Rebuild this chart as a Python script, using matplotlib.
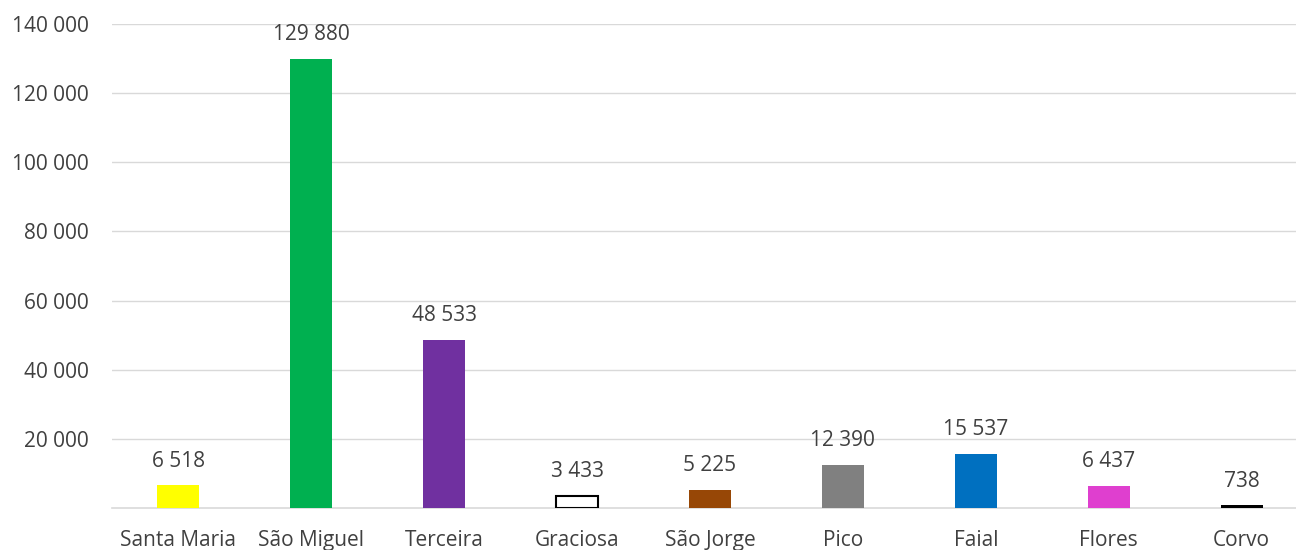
import matplotlib.pyplot as plt
import numpy as np

plt.rcParams['font.family'] = ['Open Sans', 'DejaVu Sans']

islands = ["Santa Maria", "São Miguel", "Terceira", "Graciosa", "São Jorge",
           "Pico", "Faial", "Flores", "Corvo"]
population = [6518, 129880, 48533, 3433, 5225, 12390, 15537, 6437, 738]
colors = ["#FFFF00", "#00B050", "#7030A0", "#FFFFFF", "#974706",
          "#808080", "#0070C0", "#DF3FCF", "#000000"]
edges = ["none", "none", "none", "#000000", "none",
         "none", "none", "none", "none"]
yticks = [20000, 40000, 60000, 80000, 100000, 120000, 140000]


def fmt(v):
    return f"{v:,}".replace(",", " ")


fig = plt.figure(figsize=(12.96, 5.5), dpi=100)
ax = fig.add_axes([112 / 1296, 1 - 508 / 550, 1196 / 1296, (508 - 24) / 550])

x = np.arange(len(islands))
bars = ax.bar(x, population, width=0.316, color=colors, edgecolor=edges,
              linewidth=1.5, zorder=3)
for xi, v in zip(x, population):
    ax.annotate(fmt(v), (xi, v), xytext=(0, 10), textcoords="offset points",
                ha="center", va="bottom", fontsize=15, color="#404040")

ax.set_xlim(-0.5, len(islands) - 0.5)
ax.set_ylim(0, 140000)
ax.set_yticks(yticks)
ax.set_yticklabels([fmt(t) for t in yticks])
ax.set_xticks(x)
ax.set_xticklabels(islands)
ax.tick_params(axis="both", length=0, labelsize=15, labelcolor="#404040")
ax.tick_params(axis="y", pad=17)
ax.tick_params(axis="x", pad=16)
ax.grid(axis="y", color="#D9D9D9", linewidth=1, zorder=0)
for s in ["top", "right", "left"]:
    ax.spines[s].set_visible(False)
ax.spines["bottom"].set_color("#D9D9D9")
ax.spines["bottom"].set_linewidth(1.2)

fig.savefig("out.png", dpi=100)
